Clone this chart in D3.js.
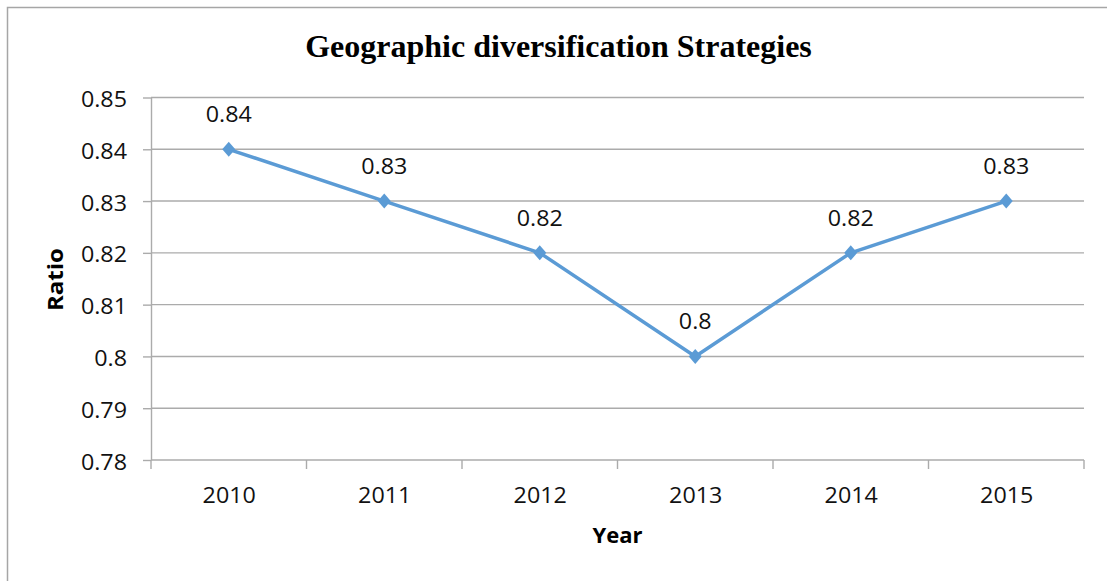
<!DOCTYPE html>
<html>
<head>
<meta charset="utf-8">
<script src="https://cdn.jsdelivr.net/npm/d3@7"></script>
<style>
  html, body { margin: 0; padding: 0; background: #fff; }
  svg { display: block; }
</style>
</head>
<body>
<svg id="chart" width="1107" height="581"></svg>
<script>
// Geographic diversification ratio by year
const years = ["2010", "2011", "2012", "2013", "2014", "2015"];
const ratios = [0.84, 0.83, 0.82, 0.80, 0.82, 0.83];
const yTicks = [0.78, 0.79, 0.80, 0.81, 0.82, 0.83, 0.84, 0.85];
const yTickLabels = ["0.78", "0.79", "0.8", "0.81", "0.82", "0.83", "0.84", "0.85"];

const W = 1107, H = 581;
const plot = { left: 151, right: 1084, top: 97.5, bottom: 460 };
const gridColor = "#ababab";
const lineColor = "#5b9bd5";
const textFont = "'Open Sans', sans-serif";
const textColor = "#111";
const stretch = 1.06;

const svg = d3.select("#chart");

// chart frame
svg.append("path")
  .attr("d", `M7.5,${H} V7.5 H${W}`)
  .attr("fill", "none")
  .attr("stroke", "#a6a6a6")
  .attr("stroke-width", 1.5);

const y = d3.scaleLinear()
  .domain([0.78, 0.85])
  .range([plot.bottom, plot.top]);

const band = d3.scaleBand()
  .domain(years)
  .range([plot.left, plot.right]);

const x = d3.scalePoint()
  .domain(years)
  .range([plot.left, plot.right])
  .padding(0.5);

// horizontal gridlines
svg.append("g")
  .selectAll("line")
  .data(yTicks)
  .join("line")
  .attr("x1", plot.left)
  .attr("x2", plot.right)
  .attr("y1", d => y(d))
  .attr("y2", d => y(d))
  .attr("stroke", gridColor)
  .attr("stroke-width", 1.4);

// y axis
const yAxis = svg.append("g")
  .attr("transform", `translate(${plot.left},0)`)
  .call(d3.axisLeft(y)
    .tickValues(yTicks)
    .tickFormat((d, i) => yTickLabels[i])
    .tickSize(8)
    .tickSizeOuter(0));
yAxis.select(".domain").attr("stroke", gridColor).attr("stroke-width", 1.4);
yAxis.selectAll(".tick line").attr("stroke", gridColor).attr("stroke-width", 1.4);
yAxis.selectAll(".tick text")
  .attr("x", null).attr("dy", null)
  .attr("transform", `translate(-24,9) scale(${stretch},1)`)
  .attr("text-anchor", "end")
  .attr("fill", textColor)
  .style("font-family", textFont)
  .style("font-size", "22px");

// x axis: labels at category centres, tick marks at category boundaries
const xAxis = svg.append("g")
  .attr("transform", `translate(0,${plot.bottom})`)
  .call(d3.axisBottom(x).tickSize(0).tickSizeOuter(0));
xAxis.select(".domain").remove();
xAxis.selectAll(".tick text")
  .attr("y", null).attr("dy", null)
  .attr("transform", `translate(0,43) scale(${stretch},1)`)
  .attr("text-anchor", "middle")
  .attr("fill", textColor)
  .style("font-family", textFont)
  .style("font-size", "22px");

const edges = years.map(d => band(d)).concat([band(years[years.length - 1]) + band.bandwidth()]);
xAxis.append("g")
  .selectAll("line")
  .data(edges)
  .join("line")
  .attr("x1", d => d)
  .attr("x2", d => d)
  .attr("y1", 0)
  .attr("y2", 9)
  .attr("stroke", gridColor)
  .attr("stroke-width", 1.4);

// series line
const points = years.map((d, i) => ({ year: d, value: ratios[i] }));
svg.append("path")
  .datum(points)
  .attr("fill", "none")
  .attr("stroke", lineColor)
  .attr("stroke-width", 3.5)
  .attr("stroke-linejoin", "round")
  .attr("d", d3.line().x(d => x(d.year)).y(d => y(d.value)));

// diamond markers
svg.append("g")
  .selectAll("path")
  .data(points)
  .join("path")
  .attr("transform", d => `translate(${x(d.year)},${y(d.value)})`)
  .attr("d", "M0,-7.5 L6.5,0 L0,7.5 L-6.5,0 Z")
  .attr("fill", lineColor);

// value labels
svg.append("g")
  .selectAll("text")
  .data(points)
  .join("text")
  .attr("transform", d => `translate(${x(d.year)},${y(d.value) - 27}) scale(${stretch},1)`)
  .attr("text-anchor", "middle")
  .attr("fill", textColor)
  .style("font-family", textFont)
  .style("font-size", "22px")
  .text(d => String(d.value));

// title
svg.append("text")
  .attr("x", 558.5)
  .attr("y", 57)
  .attr("text-anchor", "middle")
  .attr("fill", "#000")
  .style("font-family", "'Liberation Serif', 'Times New Roman', serif")
  .style("font-weight", "bold")
  .style("font-size", "32px")
  .text("Geographic diversification Strategies");

// axis titles
svg.append("text")
  .attr("transform", "translate(63,279.5) rotate(-90)")
  .attr("text-anchor", "middle")
  .attr("fill", "#000")
  .style("font-family", textFont)
  .style("font-weight", "bold")
  .style("font-size", "22px")
  .attr("textLength", 63)
  .attr("lengthAdjust", "spacingAndGlyphs")
  .text("Ratio");

svg.append("text")
  .attr("x", 617.5)
  .attr("y", 543)
  .attr("text-anchor", "middle")
  .attr("fill", "#000")
  .style("font-family", textFont)
  .style("font-weight", "bold")
  .style("font-size", "22px")
  .text("Year");
</script>
</body>
</html>
